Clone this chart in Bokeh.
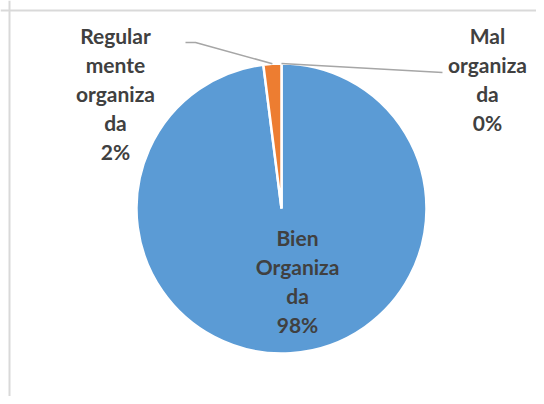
import math
from bokeh.plotting import figure
from bokeh.models import Range1d, Span, ColumnDataSource
from bokeh.core.properties import value
from bokeh.embed import file_html
from bokeh.resources import INLINE

# ---- data ----
categories = ["Bien\nOrganiza\nda", "Regular\nmente\norganiza\nda", "Mal\norganiza\nda"]
percents = [98, 2, 0]
colors = ["#5B9BD5", "#ED7D31", "#A5A5A5"]

# ---- layout (pixel-like data units; y up) ----
W, H = 536, 396
CX, CY, R = 281, 188, 145
label_pos = [(297, 115.5), (115, 303), (487, 318)]
# elbow points for leader lines (None = no leader)
leader_elbows = [None, [(185, 354), (195, 354)], [(442, 324)]]

p = figure(width=W, height=H, output_backend="svg", toolbar_location=None,
           x_range=Range1d(0, W), y_range=Range1d(0, H), min_border=0)
p.axis.visible = False
p.grid.visible = False
p.outline_line_color = None
p.background_fill_color = "white"
p.border_fill_color = "white"

# chart-area border (top and left visible in the crop)
p.add_layout(Span(location=386, dimension="width", line_color="#d9d9d9", line_width=2))
p.add_layout(Span(location=9, dimension="height", line_color="#d9d9d9", line_width=2))

total = sum(percents)
starts, ends, cols, mids = [], [], [], []
cum = 0.0
for v, c in zip(percents, colors):
    f0 = cum / total
    cum += v
    f1 = cum / total
    a_start = math.radians(90 - 360 * f1)
    a_end = math.radians(90 - 360 * f0)
    mids.append((a_start + a_end) / 2)
    if v > 0:
        starts.append(a_start)
        ends.append(a_end)
        cols.append(c)

src = ColumnDataSource(dict(x=[CX] * len(starts), y=[CY] * len(starts),
                            s=starts, e=ends, c=cols))
p.wedge(x="x", y="y", radius=R, start_angle="s", end_angle="e",
        fill_color="c", line_color="white", line_width=2.5, source=src)

# leader lines
for mid, elbows in zip(mids, leader_elbows):
    if elbows is None:
        continue
    px = CX + R * math.cos(mid)
    py = CY + R * math.sin(mid)
    xs = [e[0] for e in elbows] + [px]
    ys = [e[1] for e in elbows] + [py]
    p.line(xs, ys, line_color="#a6a6a6", line_width=1.6)

labels = [f"{c}\n{v}%" for c, v in zip(categories, percents)]
p.text(x=[lp[0] for lp in label_pos], y=[lp[1] for lp in label_pos], text=labels,
       text_font=value("Lato"), text_font_style="bold", text_font_size="21px",
       text_line_height=1.16, text_align="center", text_baseline="middle",
       text_color="#404040")

open("out.html", "w").write(file_html(p, INLINE))
